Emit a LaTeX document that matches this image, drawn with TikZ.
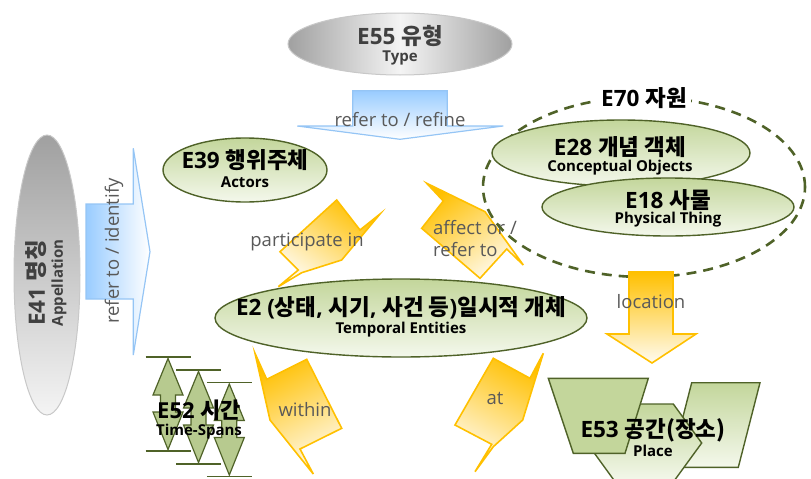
\documentclass[tikz,border=0pt]{standalone}
\usepackage{fontspec}
\setmainfont{Open Sans}
\newfontfamily\krf{Noto Sans CJK KR}
\newcommand\K[1]{{\krf #1}}
\usetikzlibrary{shapes.geometric}
\definecolor{ogreen}{HTML}{4F6228}
\definecolor{gtop}{HTML}{C3D69B}
\definecolor{gbot}{HTML}{F4F8EC}
\definecolor{ytop}{HTML}{FFC000}
\definecolor{ybot}{HTML}{FFFBF0}
\definecolor{yline}{HTML}{FFC000}
\definecolor{btop}{HTML}{99CCFF}
\definecolor{bline}{HTML}{95C5F5}
\definecolor{lblgray}{HTML}{595959}
\definecolor{gedge}{HTML}{A0A0A0}
\definecolor{gmid}{HTML}{F4F4F4}
\definecolor{gline}{HTML}{C8C8C8}
\definecolor{darktxt}{HTML}{404040}
\tikzset{
  gell/.style={ellipse, draw=ogreen, line width=1.4pt, top color=gtop, bottom color=gbot, inner sep=0pt},
  gshape/.style={draw=ogreen, line width=1.4pt, line join=miter},
  title/.style={font=\fontsize{22.5}{24}\selectfont\bfseries, inner sep=0pt},
  subt/.style={font=\fontsize{15}{17}\selectfont\bfseries, inner sep=0pt},
  lbl/.style={font=\fontsize{18.5}{22}\selectfont, text=lblgray, inner sep=0pt},
  yarr/.style={draw=yline, line width=1.6pt, line join=miter, top color=ytop, bottom color=ybot},
  barr/.style={draw=bline, line width=1.2pt, line join=miter},
  tbar/.style={draw=ogreen, line width=1.6pt},
}
\begin{document}
\begin{tikzpicture}[x=1pt,y=-1pt]
\useasboundingbox (0,0) rectangle (811,479);

% E55 Type
\node[ellipse, draw=gline, line width=1pt, left color=gedge, right color=gedge, middle color=gmid,
      minimum width=224, minimum height=62, inner sep=0pt] (e55) at (400,44) {};
\node[title, text=darktxt] (e55t) at (400,36.5) {E55 \K{유형}};
\node[subt, text=darktxt] (e55s) at (400,57.5) {Type};

% refer to / refine arrow
\draw[barr, top color=btop, bottom color=white]
  (352.7,90.7) -- (447.3,90.7) -- (447.3,126) -- (503.3,126) -- (400,139.3)
  -- (297.3,126) -- (352.7,126) -- cycle;
\node[lbl] (lrefine) at (400,120) {refer to / refine};

% E41 Appellation
\node[ellipse, draw=gline, line width=1pt, top color=gedge, bottom color=gmid,
      minimum width=66, minimum height=280, inner sep=0pt] (e41) at (47,275) {};
\node[title, rotate=90, text=darktxt] (e41t) at (36.5,283) {E41 \K{명칭}};
\node[subt, rotate=90, text=darktxt] (e41s) at (59,283) {Appellation};

% refer to / identify arrow
\draw[barr, left color=btop, right color=white]
  (86,204) -- (133.3,204) -- (133.3,148.3) -- (150,251.7) -- (133.3,355)
  -- (133.3,299) -- (86,299) -- cycle;
\node[lbl, rotate=90] (lidentify) at (114,251) {refer to / identify};

% E39 Actors
\node[gell, minimum width=164, minimum height=64] (e39) at (245,170) {};
\node[title] (e39t) at (245,160) {E39 \K{행위주체}};
\node[subt] (e39s) at (245,182.5) {Actors};

% yellow arrows
\draw[yarr, shading angle=-35]
  (336.7,200) -- (360,230) -- (380,214) -- (341.7,260) -- (301.7,272.7)
  -- (278.3,286.7) -- (298.3,270) -- (280,251.7) -- cycle;
\node[lbl] (lpart) at (307,242) {participate in};

\draw[yarr, shading angle=35]
  (426.7,183.3) -- (485,211.7) -- (523.3,265) -- (506.7,249) -- (480,278.3)
  -- (421.7,228.3) -- (443.3,201) -- cycle;
\node[lbl, align=left, anchor=west] (laffect) at (433,239) {affect or /\\refer to};

\draw[yarr, shading angle=27]
  (255,353.3) -- (266.7,379.3) -- (306.7,359.3) -- (341.7,428.3) -- (300,449)
  -- (313.3,474) -- (270,420) -- cycle;
\node[lbl] (lwithin) at (305,410) {within};

\draw[yarr, shading angle=-28]
  (493.3,358.3) -- (530,378.3) -- (543.3,353.3) -- (522.7,420) -- (493.3,446.7)
  -- (475,471.7) -- (491.7,444.3) -- (455,425) -- cycle;
\node[lbl] (lat) at (495,398) {at};

% E70 dashed
\node[ellipse, draw=ogreen, line width=2.6pt, dash pattern=on 10pt off 7pt,
      minimum width=322, minimum height=180, inner sep=0pt] (e70) at (644,187) {};
\node[title, fill=white, inner xsep=4pt, inner ysep=2pt] (e70t) at (644,98) {E70 \K{자원}};

% E28, E18
\node[gell, minimum width=258, minimum height=66] (e28) at (621,153) {};
\node[title] (e28t) at (620,147) {E28 \K{개념 객체}};
\node[subt] (e28s) at (620,167.5) {Conceptual Objects};

\node[gell, minimum width=252, minimum height=58] (e18) at (668,207) {};
\node[title] (e18t) at (668,200) {E18 \K{사물}};
\node[subt] (e18s) at (668,219.5) {Physical Thing};

% E2 Temporal Entities
\node[gell, minimum width=372, minimum height=78] (e2) at (401,318) {};
\node[title] (e2t) at (401,308) {E2 (\K{상태}, \K{시기}, \K{사건 등})\K{일시적 개체}};
\node[subt] (e2s) at (401,329.5) {Temporal Entities};

% location arrow
\draw[yarr]
  (629,272) -- (673,272) -- (673,334) -- (696,334) -- (652,363) -- (607,334) -- (629,334) -- cycle;
\node[lbl] (lloc) at (651,302) {location};

% E52 Time-Spans
\foreach \cx/\ty in {168/357, 198.5/370, 229.3/382.5}{
  \draw[tbar] (\cx-22.5,\ty) -- (\cx+22.5,\ty);
  \draw[tbar] (\cx-22.5,\ty+94) -- (\cx+22.5,\ty+94);
  \draw[gshape, line width=1.2pt, top color=gtop!90!ogreen, middle color=white, bottom color=gtop!90!ogreen]
    (\cx,\ty+1.5) -- (\cx+15,\ty+38) -- (\cx+7.5,\ty+38) -- (\cx+7.5,\ty+55)
    -- (\cx+15,\ty+55) -- (\cx,\ty+92.5) -- (\cx-15,\ty+55) -- (\cx-7.5,\ty+55)
    -- (\cx-7.5,\ty+38) -- (\cx-15,\ty+38) -- cycle;
}
\node[font=\fontsize{22}{24}\selectfont\bfseries, inner sep=0pt] (e52t) at (199,410) {E52 \K{시간}};
\node[font=\fontsize{15}{17}\selectfont\bfseries, inner sep=0pt] (e52s) at (199,432) {Time-Spans};

% E53 Place
\draw[gshape, top color=gtop, bottom color=gbot]
  (691.7,382.7) -- (760,382.7) -- (738.3,467.3) -- (670,467.3) -- cycle;
\draw[gshape, top color=gtop, bottom color=gbot]
  (587,443) -- (615.3,404) -- (673.3,404) -- (701.7,443) -- (673.3,482) -- (615.3,482) -- cycle;
\draw[gshape, top color=gtop, middle color=white, bottom color=gtop]
  (548.3,378.3) -- (648.3,378.3) -- (625,453.3) -- (573.3,453.3) -- cycle;
\node[title] (e53t) at (653,430) {E53 \K{공간(장소)}};
\node[subt] (e53s) at (653,451) {Place};
\end{tikzpicture}
\end{document}
